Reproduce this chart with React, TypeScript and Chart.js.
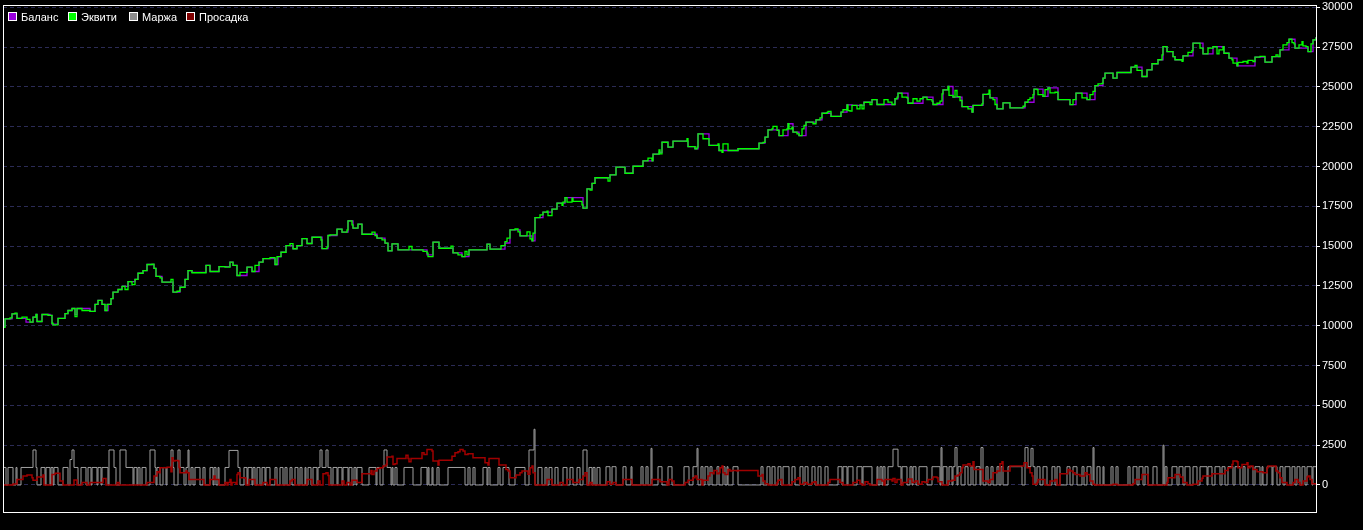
import React, { useEffect, useRef } from 'react';
import { Chart, registerables } from 'chart.js';

Chart.register(...registerables);

const seriesNames = ['Баланс', 'Эквити', 'Маржа', 'Просадка'];
const yTicks = [0, 2500, 5000, 7500, 10000, 12500, 15000, 17500, 20000, 22500, 25000, 27500, 30000];
const barFirst = 3;
const barLast = 1316;

// [bar, value]
const equity: [number, number][] = [
  [3,9900],[5,10440],[10,10500],[12,10750],[15,10790],[17,10460],[22,10540],[27,10400],[30,10230],[33,10540],[36,10710],[37,10270],[42,10710],[48,10650],[52,10160],[53,10060],[58,10460],[65,10770],[68,10960],[72,11085],[75,10580],[77,11085],[82,10960],[90,10900],[95,11340],[98,11590],[102,11340],[105,10960],[107,11340],[111,11710],[113,12110],[118,12280],[122,12470],[125,12280],[128,12780],[132,12590],[135,12910],[138,13300],[143,13470],[147,13850],[152,13870],[154,13600],[156,13100],[160,13010],[162,12740],[171,12910],[173,12110],[177,12170],[180,12420],[185,12910],[188,13470],[192,13330],[206,13790],[210,13410],[219,13720],[225,13680],[230,14000],[233,13790],[237,13160],[240,13350],[247,13680],[252,13410],[255,13790],[259,14000],[263,14220],[270,14280],[275,13850],[277,14350],[281,14620],[286,15040],[290,15160],[293,14840],[297,15040],[302,15480],[307,15170],[312,15560],[321,15390],[322,14850],[327,14960],[328,15670],
  [330,15710],[337,16070],[342,15880],[347,16020],[348,16590],[352,16340],[353,16130],[358,16380],[362,15750],[372,15880],[375,15660],[377,15500],[382,15400],[385,15190],[388,14700],[392,15140],[398,14770],[409,14980],[412,14770],[423,14670],[427,14560],[428,14350],[433,15250],[439,14870],[451,15000],[453,14580],[458,14460],[462,14350],[465,14670],[467,14460],[469,14770],[487,15130],[490,14810],[501,15040],[505,15290],[507,15500],[510,16020],[515,16080],[518,15900],[520,15650],[527,15900],[530,15460],[532,15330],[533,15820],[535,16800],[540,16970],[543,17140],[547,17200],[548,16920],[552,17330],[557,17700],[562,17560],[563,17770],[565,18050],[567,17770],[572,18020],[573,17810],[582,17600],[583,17390],[587,18600],[590,18530],[592,18950],[595,19300],[608,19090],[610,19480],[616,19960],[625,19580],[633,20020],[643,20360],[648,20530],[652,20360],[653,20780],[659,21050],
  [660,20800],[662,21530],[668,21220],[673,21600],[687,21750],[688,21260],[695,21120],[697,21220],[698,22060],[703,21750],[709,21330],[718,21430],[719,21010],[722,20900],[723,21430],[728,21010],[738,21120],[759,21470],[763,21520],[765,21850],[768,22310],[772,22370],[773,22520],[777,22270],[779,21950],[783,22310],[787,22370],[788,22690],[789,22370],[792,22480],[793,22160],[797,22060],[799,21950],[802,22370],[804,22580],[806,22790],[813,22690],[816,22940],[820,23060],[822,23350],[827,23400],[828,23460],[831,23150],[841,23420],[843,23570],[847,23880],[848,23520],[850,23480],[852,23840],[857,23630],[860,23880],[862,23630],[864,24040],[870,23900],[872,24200],[877,23900],[884,24200],[888,24050],[892,23900],[895,24260],[897,24360],[898,24610],[902,24360],[907,24320],[908,23980],[913,24260],[917,24110],[920,24260],[923,24360],[927,24200],[932,24110],[933,23900],[937,23980],[940,24110],[942,24570],[943,24820],[948,25030],[949,24470],[953,24360],[955,24780],[957,24400],[960,24150],[962,23770],[968,23630],[972,23420],[973,23840],[982,23940],[983,24530],[988,24570],[989,24800],
  [990,24310],[993,24210],[995,23900],[997,23620],[1003,24000],[1010,23690],[1023,23790],[1025,24040],[1028,24210],[1030,24310],[1033,24520],[1034,24870],[1037,24830],[1038,24520],[1043,24410],[1045,24830],[1048,24940],[1050,24630],[1055,24670],[1058,24210],[1070,23890],[1073,24210],[1076,24620],[1082,24310],[1087,24210],[1090,24520],[1093,24730],[1095,25080],[1098,25190],[1102,25230],[1103,25560],[1105,25870],[1113,25560],[1117,25910],[1131,26250],[1135,26350],[1137,26040],[1142,25660],[1147,26080],[1152,26460],[1158,26710],[1162,27020],[1163,27540],[1167,27220],[1173,26910],[1175,26710],[1182,26610],[1183,26960],[1188,27170],[1192,27290],[1193,27750],[1200,27440],[1203,27080],[1208,27440],[1213,27540],[1217,27080],[1219,27330],[1223,27540],[1224,27120],[1229,26810],[1232,26710],[1233,26500],[1237,26330],[1238,26540],[1243,26600],[1247,26500],[1248,26670],[1253,26600],[1255,26880],[1260,26920],[1265,26560],[1272,26910],[1276,27020],[1278,26910],[1280,27330],[1283,27640],[1287,27790],[1289,28000],[1292,27790],[1294,27710],[1295,27440],[1299,27650],[1302,27850],[1303,27580],[1306,27540],[1308,27220],[1311,27710],[1313,27960],[1316,28130],
];

const balance: [number, number][] = [
  [3,9950],[5,10440],[12,10750],[17,10460],[26,10230],[33,10540],[36,10710],[37,10270],[42,10710],[50,10650],[52,10100],[58,10460],[64,10460],[65,10770],[68,10960],[72,11085],[75,10700],[77,11085],[90,10900],[95,11340],[98,11590],[102,11340],[105,10960],[108,11340],[111,11710],[113,12110],[118,12280],[122,12470],[128,12780],[135,12910],[138,13300],[143,13470],[147,13850],[154,13600],[156,13100],[162,12740],[173,12110],[180,12420],[185,12910],[188,13470],[192,13350],[206,13790],[210,13410],[219,13720],[230,14000],[233,13790],[237,13160],[247,13680],[252,13410],[259,14000],[263,14220],[275,13850],[278,14350],[281,14620],[286,15040],[293,14840],[297,15040],[302,15480],[307,15170],[312,15560],[322,14850],[328,15670],[337,16070],[342,15880],[348,16590],[353,16130],[358,16380],[362,15750],[377,15500],[385,15190],[388,14700],[392,15140],[398,14770],[412,14770],[427,14450],[433,15250],[439,14870],[453,14580],[462,14350],[469,14770],[487,15130],[490,14810],[505,15200],[510,16020],[520,15650],[532,15330],[535,16800],[543,17140],[552,17330],[557,17700],[565,18050],[583,17390],[587,18600],[592,18950],[595,19300],[610,19480],[616,19960],[625,19580],[633,20020],[643,20360],[653,20780],[659,20900],[662,21530],[668,21220],[673,21600],[688,21260],[695,21120],[698,22060],[709,21330],[719,21010],[738,21120],[759,21470],[765,21850],[768,22310],[779,21950],[788,22690],[793,22160],[799,21950],[806,22790],[816,22940],[822,23350],[831,23150],[841,23420],[847,23880],[852,23840],[864,24040],[872,24200],[877,23900],[895,24260],[898,24610],[908,23980],[923,24360],[933,23900],[943,24820],[948,25030],[953,24360],[962,23770],[972,23420],[973,23840],[983,24530],[990,24310],[997,23620],[1003,24000],[1010,23690],[1025,24040],[1034,24870],[1043,24410],[1048,24940],[1058,24210],[1070,23890],[1076,24620],[1087,24210],[1095,25080],[1103,25560],[1105,25870],[1113,25560],[1117,25910],[1131,26250],[1142,25660],[1147,26080],[1152,26460],[1158,26710],[1163,27540],[1167,27220],[1173,26910],[1175,26710],[1183,26960],[1193,27750],[1203,27080],[1213,27540],[1224,27120],[1229,26810],[1237,26330],[1255,26880],[1265,26560],[1272,26910],[1280,27330],[1289,28000],[1295,27440],[1308,27220],[1313,27960],[1316,28130],
];

const margin: [number, number][] = [
  [3,1100],[6,0],[8,1100],[13,0],[16,1100],[17,0],[21,1100],[33,2200],[36,1100],[37,0],[41,1100],[45,0],[46,1100],[50,0],[51,1100],[53,0],[54,1100],[58,0],[63,1100],[68,0],[70,1600],[72,2200],[74,1100],[78,0],[81,1100],[86,0],[88,1100],[91,0],[92,1100],[97,0],[98,1100],[101,0],[102,1100],[108,0],[109,2200],[114,1100],[116,0],[120,2200],[126,1100],[133,0],[134,1100],[137,0],[138,1100],[140,0],[142,1100],[146,0],[150,2200],[155,1100],[156,0],[157,1100],[160,0],[163,1100],[166,0],[167,1100],[171,2200],[173,1100],[174,0],[178,2200],[180,1100],[184,0],[186,1100],[188,2200],[189,0],[191,1100],[193,0],[195,1100],[200,0],[203,1100],[205,0],[210,1100],[213,0],[214,1100],[216,0],[218,1100],[219,0],[225,1100],[229,2170],[238,1100],[240,0],[244,1100],[247,0],[248,1100],[252,0],[253,1100],[255,0],[257,1100],[260,0],[262,1100],[265,0],[266,1100],[270,0],[275,1100],[277,0],[280,1100],[283,0],[285,1100],[287,0],[290,1100],[292,0],[295,1100],[298,0],[300,1100],[302,0],[305,1100],[306,0],[308,1100],[311,0],[313,1100],[317,0],[318,1100],[320,2200],[322,1100],[326,2200],[328,1100],[331,0],[333,1100],[337,0],[338,1100],[342,0],[343,1100],[348,0],[349,1100],[352,0],[354,1100],[356,0],[357,1100],[362,0],[369,1100],[376,0],[377,1100],[380,0],[383,1100],[384,2200],[387,1100],[391,0],[392,1100],[393,0],[395,1100],[397,0],[404,1100],[413,0],[421,1100],[427,0],[428,1100],[429,0],[432,1100],[433,0],[437,1100],[439,0],[448,1100],[465,0],[468,1100],[470,0],[473,1100],[475,0],[483,1100],[487,0],[488,1100],[490,0],[498,1100],[500,0],[503,1100],[509,0],[515,1100],[525,0],[529,2200],[534,3500],[535,0],[538,1100],[542,0],[545,1100],[547,0],[549,1100],[552,0],[555,1100],[558,0],[563,1100],[567,0],[570,1100],[573,0],[577,1100],[580,0],[583,2200],[587,0],[589,1100],[592,0],[593,1100],[595,0],[597,1100],[600,0],
  [606,1150],[610,0],[612,1150],[616,0],[623,1150],[626,0],[631,1150],[632,0],[641,1150],[643,0],[646,1150],[648,0],[651,2300],[652,0],[658,1150],[662,0],[668,1150],[672,0],[684,1150],[689,0],[693,1150],[697,2300],[698,0],[701,1150],[703,0],[705,1150],[708,0],[710,1150],[712,0],[717,1150],[719,0],[723,1150],[725,0],[727,1150],[728,0],[733,1150],[738,0],[761,1150],[763,0],[767,1150],[770,0],[772,1150],[775,0],[778,1150],[781,0],[783,1150],[789,0],[792,1150],[795,0],[800,1150],[803,0],[805,1150],[808,0],[812,1150],[815,0],[818,1150],[821,0],[825,1150],[828,0],[838,1150],[842,0],[843,1150],[847,0],[848,1150],[853,0],[857,1150],[862,0],[863,1150],[872,0],[877,1150],[878,0],[880,1150],[882,0],[883,1150],[885,0],[888,1150],[893,2250],[898,1150],[901,0],[902,1150],[907,0],[910,1150],[912,0],[913,1150],[916,0],[919,1150],[927,0],[932,1150],[940,0],[941,2350],[942,0],[943,1150],[947,0],[949,1150],[952,0],[953,1150],[955,2350],[957,0],[958,1150],[961,0],[965,1150],[968,0],[971,1150],[973,0],[976,1150],[980,0],[981,2350],[983,0],[986,1150],[988,0],[991,1150],[993,0],[997,1150],[999,0],[1001,1150],[1003,0],[1008,1150],[1022,0],[1025,2350],[1028,1150],[1031,2300],[1033,1150],[1035,0],[1037,1150],[1040,0],[1043,1150],[1047,0],[1052,1150],[1055,0],[1057,1150],[1060,0],[1067,1150],[1070,0],[1073,1150],[1077,0],[1082,1150],[1084,0],[1087,1150],[1091,0],[1093,2350],[1094,0],[1097,1150],[1100,0],[1103,1150],[1104,0],[1111,1150],[1113,0],[1116,1150],[1118,0],[1128,1150],[1130,0],[1133,1150],[1137,0],[1139,1150],[1143,0],[1145,1150],[1148,0],[1153,1150],[1157,0],[1163,2500],[1164,0],[1165,1150],[1167,0],[1172,1150],[1177,0],[1179,1150],[1183,0],[1185,1150],[1190,0],[1193,1150],[1197,0],[1200,1150],[1207,0],[1208,1150],[1212,0],[1215,1150],[1220,0],[1222,1150],[1225,0],[1228,1150],[1233,0],[1235,1150],[1240,0],[1243,1150],[1245,0],[1248,1150],[1253,0],[1255,1150],[1260,0],[1262,1150],[1263,0],[1267,1150],[1272,0],[1273,1150],[1277,0],[1280,1150],[1283,0],[1285,1150],[1290,0],[1292,1150],[1295,0],[1297,1150],[1300,0],[1302,1150],[1305,0],[1307,1150],[1312,0],[1313,1150],[1316,1150],
];

const drawdown: [number, number][] = [
  [3,0],[13,60],[17,350],[22,350],[23,560],[27,625],[32,450],[33,290],[37,500],[43,625],[44,0],[52,665],[55,730],[59,730],[60,250],[63,0],[74,310],[77,0],[82,150],[87,0],[90,150],[103,400],[106,0],[117,150],[119,0],[147,150],[154,560],[157,830],[159,770],[160,1080],[167,1120],[171,830],[172,1710],[173,1500],[175,1540],[178,1500],[179,1100],[180,770],[186,880],[187,770],[189,350],[195,350],
  [204,0],[210,350],[214,560],[215,350],[219,0],[225,150],[227,0],[228,150],[230,350],[231,0],[232,150],[236,40],[237,665],[238,770],[240,460],[245,420],[246,0],[249,350],[255,0],[263,150],[267,0],[270,350],[276,0],[290,250],[292,350],[295,0],[307,350],[312,0],[318,250],[320,0],[323,710],[326,770],[328,600],[329,0],[342,250],[344,0],[347,150],[350,0],[352,290],[357,150],[362,710],[370,710],[371,915],[372,660],[374,880],[377,1040],[380,1080],[383,1190],[386,1290],[387,1750],[392,1810],[393,1290],[395,1330],[397,1665],[405,1665],[406,1870],[408,1665],[409,1460],[411,1665],[420,1665],[422,2020],[424,1920],[427,2230],[432,2130],[433,1500],[438,1250],[439,1560],[450,1560],[452,1810],[455,2020],[458,2080],[460,2230],[463,2130],[465,1920],[468,1960],[473,1710],[483,1710],[485,1400],[488,1250],[489,1665],[498,1665],[499,1250],[505,1250],[506,980],[508,875],[510,460],[516,630],[520,770],[522,875],[527,875],[528,670],[530,1080],[532,1190],[533,770],[535,0],[547,350],[552,0],[560,150],[563,0],[567,350],[573,150],[579,350],[583,560],[585,770],[587,0],[590,150],[592,0],
  [607,200],[610,40],[613,150],[616,0],[623,350],[632,0],[652,350],[660,200],[667,0],[669,350],[672,250],[674,0],[685,150],[688,290],[693,460],[695,560],[697,350],[702,0],[703,290],[708,560],[710,770],[713,710],[714,915],[717,710],[719,770],[720,1080],[722,1190],[723,770],[725,665],[728,980],[730,875],[732,915],[737,875],[738,915],[757,915],[758,560],[762,665],[763,250],[765,80],[768,0],[777,150],[778,290],[780,350],[782,0],[792,200],[795,350],[798,460],[800,40],[804,150],[807,40],[812,150],[814,200],[816,0],[828,150],[830,350],[838,350],[840,150],[843,0],[853,150],[857,290],[860,80],[862,0],[865,200],[868,80],[870,0],[877,350],[882,250],[884,0],[885,350],[888,350],[892,250],[893,400],[895,150],[897,350],[901,0],
  [903,150],[908,370],[912,150],[915,250],[918,40],[922,200],[925,150],[928,350],[933,500],[937,460],[938,200],[942,0],[948,250],[952,290],[955,560],[958,620],[960,770],[962,1080],[963,1250],[968,1330],[970,1190],[973,1460],[974,980],[982,980],[983,250],[988,150],[990,350],[993,770],[997,875],[1000,1330],[1002,1460],[1003,875],[1009,875],[1010,1190],[1023,1190],[1024,1400],[1027,1080],[1030,770],[1032,560],[1033,40],[1037,150],[1038,350],[1043,350],[1045,0],[1050,250],[1055,350],[1057,0],[1060,710],[1067,710],[1068,980],[1070,875],[1073,770],[1075,665],[1080,560],[1085,770],[1087,665],[1090,250],[1093,40],[1095,0],[1113,40],[1117,0],[1133,80],[1135,350],[1140,350],[1142,665],[1147,665],[1148,0],[1167,150],[1168,460],[1175,665],[1180,500],[1183,150],[1187,0],[1193,40],[1198,250],[1202,420],[1203,560],[1212,710],[1220,710],[1225,915],[1228,1080],[1232,1290],[1233,1500],[1237,1460],[1238,1080],[1242,1290],[1247,1400],[1248,1080],[1250,1190],[1253,980],[1257,830],[1263,770],[1267,1080],[1268,1190],[1275,1190],[1276,875],[1278,770],[1280,460],[1282,150],[1287,0],[1293,150],[1295,350],[1298,150],[1300,0],[1303,250],[1307,500],[1308,560],[1310,350],[1312,80],[1316,0],
];

const lineColors = ['#9a00e0', '#00ff00', '#a0a0a0', '#a00000'];
const legendFill = ['#9900dd', '#00ff00', '#8c8c8c', '#800000'];
const legendLeft = [8, 68, 129, 186];

const toXY = (arr: [number, number][]) => arr.map(([x, y]) => ({ x, y }));

export default function App() {
  const canvasRef = useRef<HTMLCanvasElement>(null);

  useEffect(() => {
    const canvas = canvasRef.current;
    if (!canvas) return;
    Chart.defaults.font.family = '"Liberation Sans", Arial, sans-serif';

    const framePlugin = {
      id: 'frame',
      afterDraw(chart: any) {
        const { ctx, chartArea: a } = chart;
        ctx.save();
        ctx.strokeStyle = '#ffffff';
        ctx.lineWidth = 1;
        ctx.strokeRect(a.left + 0.5, a.top + 0.5, a.right - a.left, a.bottom - a.top - 1);
        ctx.restore();
      },
    };

    const seriesData = [balance, equity, margin, drawdown];
    const widths = [1.3, 1.3, 1, 1.5];
    const orders = [1, 0, 3, 2];

    const chart = new Chart(canvas, {
      type: 'line',
      data: {
        datasets: seriesData.map((s, i) => ({
          label: seriesNames[i],
          data: toXY(s),
          borderColor: lineColors[i],
          backgroundColor: legendFill[i],
          borderWidth: widths[i],
          pointRadius: 0,
          stepped: true,
          tension: 0,
          fill: false,
          order: orders[i],
        })),
      },
      options: {
        responsive: false,
        animation: false,
        events: [],
        layout: { padding: { left: 3, top: 5, right: 0, bottom: 17 } },
        plugins: {
          tooltip: { enabled: false },
          legend: { display: false },
        },
        scales: {
          x: {
            type: 'linear',
            display: false,
            min: barFirst,
            max: barLast,
          },
          y: {
            position: 'right',
            min: -1760,
            max: 30150,
            afterBuildTicks: (axis: any) => {
              axis.ticks = yTicks.map((v) => ({ value: v }));
            },
            afterFit: (axis: any) => {
              axis.width = 47;
              axis.paddingTop = 0;
              axis.paddingBottom = 0;
            },
            ticks: {
              color: '#ffffff',
              font: { size: 11 },
              padding: 2,
              callback: (v: any) => String(v),
            },
            grid: {
              color: '#2b2b55',
              lineWidth: 1,
              tickColor: '#ffffff',
              tickLength: 4,
              tickWidth: 1,
              tickBorderDash: [],
            },
            border: { display: false, dash: [4, 3] },
          },
        },
      },
      plugins: [framePlugin],
    } as any);

    return () => chart.destroy();
  }, []);

  return (
    <div style={{ position: 'fixed', left: 0, top: 0, width: 1363, height: 530, background: '#000000' }}>
      <canvas ref={canvasRef} width={1363} height={530} style={{ display: 'block' }} />
      {seriesNames.map((name, i) => (
        <div
          key={name}
          style={{
            position: 'absolute',
            left: legendLeft[i],
            top: 10,
            height: 13,
            display: 'flex',
            alignItems: 'center',
            font: '11px "Liberation Sans", Arial, sans-serif',
            color: '#ffffff',
            whiteSpace: 'nowrap',
          }}
        >
          <span
            style={{
              display: 'inline-block',
              width: 9,
              height: 9,
              boxSizing: 'border-box',
              border: '1px solid #ffffff',
              background: legendFill[i],
              marginRight: 4,
            }}
          />
          <span>{name}</span>
        </div>
      ))}
    </div>
  );
}
